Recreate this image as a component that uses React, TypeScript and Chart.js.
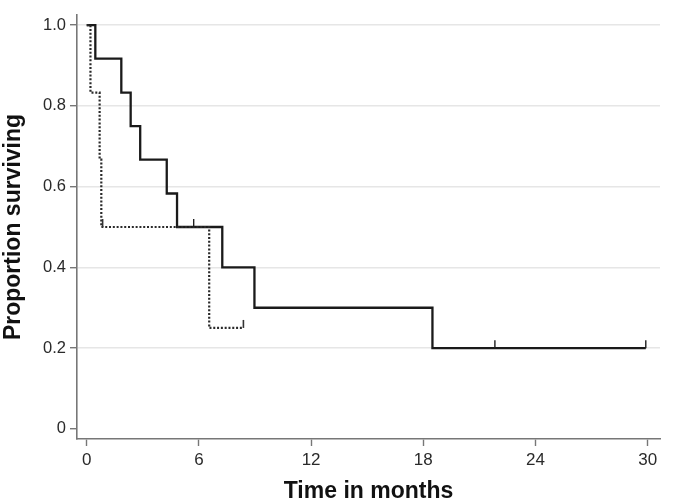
import React, { useEffect, useRef } from "react";
import { Chart, registerables } from "chart.js";

Chart.register(...registerables);

// Kaplan-Meier step data (time in months, proportion surviving)
const solidTimes = [0, 0.46, 1.85, 2.35, 2.86, 4.28, 4.83, 7.25, 8.97, 18.49, 29.9];
const solidSurv = [1, 0.917, 0.833, 0.75, 0.667, 0.583, 0.5, 0.4, 0.3, 0.2, 0.2];
const solidCensorTimes = [5.72, 21.83, 29.9];
const solidCensorSurv = [0.5, 0.2, 0.2];

const dottedTimes = [0, 0.2, 0.69, 0.78, 6.55, 8.38];
const dottedSurv = [1, 0.833, 0.667, 0.5, 0.25, 0.25];
const dottedCensorTimes = [0.85, 8.38];
const dottedCensorSurv = [0.5, 0.25];

const xTicks = [0, 6, 12, 18, 24, 30];
const yTicks = [0, 0.2, 0.4, 0.6, 0.8, 1.0];

const FONT = "'Liberation Sans', Arial, Helvetica, sans-serif";

const toPoints = (xs: number[], ys: number[]) => xs.map((x, i) => ({ x, y: ys[i] }));

const censorPlugin = {
  id: "censorMarks",
  afterDatasetsDraw(chart: any) {
    const { ctx, scales } = chart;
    const xs = scales.x;
    const ys = scales.y;
    const sets = [
      { t: solidCensorTimes, s: solidCensorSurv, color: "#1e1e1e", w: 1.4 },
      { t: dottedCensorTimes, s: dottedCensorSurv, color: "#333", w: 1.6 },
    ];
    ctx.save();
    sets.forEach((set) => {
      ctx.strokeStyle = set.color;
      ctx.lineWidth = set.w;
      set.t.forEach((t, i) => {
        const px = xs.getPixelForValue(t);
        const py = ys.getPixelForValue(set.s[i]);
        ctx.beginPath();
        ctx.moveTo(px, py);
        ctx.lineTo(px, py - 8);
        ctx.stroke();
      });
    });
    ctx.restore();
  },
};

export default function App() {
  const ref = useRef<HTMLCanvasElement | null>(null);

  useEffect(() => {
    if (!ref.current) return;
    const chart = new Chart(ref.current, {
      type: "line",
      data: {
        datasets: [
          {
            data: toPoints(dottedTimes, dottedSurv),
            stepped: "before",
            borderColor: "#2a2a2a",
            borderWidth: 2.2,
            borderDash: [2, 1.8],
            pointRadius: 0,
            fill: false,
          },
          {
            data: toPoints(solidTimes, solidSurv),
            stepped: "before",
            borderColor: "#1a1a1a",
            borderWidth: 2.3,
            pointRadius: 0,
            fill: false,
          },
        ],
      },
      options: {
        responsive: false,
        animation: false,
        layout: { padding: { top: 15, right: 19, left: 0, bottom: 0 } },
        plugins: {
          legend: { display: false },
          tooltip: { enabled: false },
        },
        scales: {
          x: {
            type: "linear",
            min: -0.52,
            max: 30.66,
            afterBuildTicks: (scale: any) => {
              scale.ticks = xTicks.map((v) => ({ value: v }));
            },
            afterFit: (scale: any) => {
              scale.height = 62;
            },
            border: { display: true, color: "#777", width: 1.6 },
            grid: {
              drawOnChartArea: false,
              drawTicks: true,
              tickLength: 7,
              tickColor: "#777",
              tickWidth: 1.4,
            },
            ticks: {
              autoSkip: false,
              maxRotation: 0,
              padding: 4,
              color: "#2a2a2a",
              font: { family: FONT, size: 17 },
              callback: (v: any) => String(v),
            },
            title: {
              display: true,
              text: "Time in months",
              color: "#111",
              font: { family: FONT, size: 23, weight: "bold" },
              padding: { top: 0, bottom: -4 },
            },
          },
          y: {
            type: "linear",
            min: -0.025,
            max: 1.025,
            afterBuildTicks: (scale: any) => {
              scale.ticks = yTicks.map((v) => ({ value: v }));
            },
            afterFit: (scale: any) => {
              scale.width = 77;
            },
            border: { display: true, color: "#777", width: 1.6 },
            grid: {
              drawOnChartArea: true,
              drawTicks: true,
              tickLength: 7,
              color: (c: any) => (c.tick && c.tick.value === 0 ? "rgba(0,0,0,0)" : "#e6e6e6"),
              lineWidth: 1.4,
              tickColor: "#777",
              tickWidth: 1.4,
            },
            ticks: {
              autoSkip: false,
              padding: 4,
              color: "#2a2a2a",
              font: { family: FONT, size: 16.5 },
              callback: (v: any) => (v === 0 ? "0" : Number(v).toFixed(1)),
            },
            title: {
              display: true,
              text: "Proportion surviving",
              color: "#111",
              font: { family: FONT, size: 23, weight: "bold" },
              padding: { top: 0, bottom: 0 },
            },
          },
        },
      },
      plugins: [censorPlugin],
    } as any);
    return () => chart.destroy();
  }, []);

  return (
    <div style={{ position: "absolute", left: 0, top: 0, width: 679, height: 501, background: "#fff" }}>
      <canvas ref={ref} width={679} height={501} style={{ display: "block" }} />
    </div>
  );
}
